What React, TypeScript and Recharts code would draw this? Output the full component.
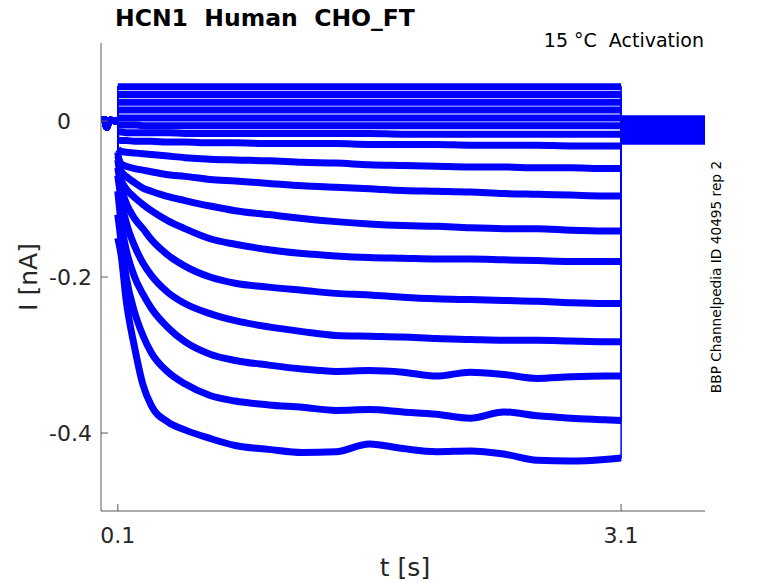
import React from 'react';
import { LineChart, Line, XAxis, YAxis } from 'recharts';

// sampling times (s)
const TIME_PRE = [0, 0.02, 0.035, 0.05, 0.1];
const TIME_STEP = [0.1, 0.12, 0.15, 0.2, 0.25, 0.3, 0.4, 0.5, 0.65, 0.8, 1.0, 1.2, 1.4, 1.6, 1.8, 2.0, 2.2, 2.4, 2.6, 2.8, 3.0, 3.1];
const TIME_TAIL = [3.1, 3.6];

// holding current before the step (nA)
const BASELINE = [0.0, 0.002, -0.008, 0.001, 0.0];

// current during the activation step, one array per sweep (nA)
const SWEEP_1 = [-0.15, -0.172, -0.23, -0.29, -0.338, -0.365, -0.386, -0.396, -0.407, -0.416, -0.421, -0.425, -0.424, -0.414, -0.42, -0.424, -0.423, -0.427, -0.435, -0.436, -0.434, -0.432];
const SWEEP_2 = [-0.12, -0.155, -0.2, -0.245, -0.275, -0.297, -0.322, -0.337, -0.352, -0.359, -0.364, -0.367, -0.371, -0.37, -0.373, -0.376, -0.381, -0.373, -0.378, -0.381, -0.383, -0.384];
const SWEEP_3 = [-0.09, -0.13, -0.165, -0.2, -0.222, -0.24, -0.265, -0.283, -0.299, -0.307, -0.313, -0.318, -0.321, -0.32, -0.322, -0.327, -0.322, -0.325, -0.33, -0.328, -0.327, -0.327];
const SWEEP_4 = [-0.07, -0.1, -0.13, -0.16, -0.182, -0.198, -0.22, -0.234, -0.247, -0.256, -0.264, -0.27, -0.275, -0.276, -0.277, -0.279, -0.28, -0.281, -0.281, -0.282, -0.283, -0.283];
const SWEEP_5 = [-0.06, -0.085, -0.105, -0.125, -0.138, -0.152, -0.172, -0.186, -0.2, -0.208, -0.213, -0.217, -0.221, -0.223, -0.226, -0.228, -0.229, -0.23, -0.231, -0.233, -0.234, -0.234];
const SWEEP_6 = [-0.05, -0.075, -0.087, -0.098, -0.107, -0.115, -0.128, -0.138, -0.151, -0.158, -0.165, -0.17, -0.173, -0.175, -0.176, -0.177, -0.177, -0.178, -0.179, -0.18, -0.18, -0.18];
const SWEEP_7 = [-0.04, -0.064, -0.071, -0.079, -0.086, -0.09, -0.097, -0.102, -0.109, -0.115, -0.12, -0.125, -0.129, -0.132, -0.134, -0.135, -0.137, -0.138, -0.138, -0.14, -0.141, -0.141];
const SWEEP_8 = [-0.045, -0.055, -0.058, -0.061, -0.063, -0.065, -0.069, -0.071, -0.075, -0.077, -0.08, -0.083, -0.085, -0.087, -0.089, -0.09, -0.091, -0.093, -0.094, -0.095, -0.096, -0.096];
const SWEEP_9 = [-0.036, -0.039, -0.04, -0.041, -0.042, -0.043, -0.045, -0.047, -0.049, -0.05, -0.051, -0.053, -0.054, -0.056, -0.057, -0.058, -0.059, -0.059, -0.06, -0.06, -0.061, -0.061];
const SWEEP_10 = [-0.024, -0.025, -0.025, -0.026, -0.026, -0.026, -0.027, -0.027, -0.028, -0.028, -0.029, -0.029, -0.029, -0.03, -0.03, -0.03, -0.031, -0.031, -0.031, -0.032, -0.032, -0.032];
const SWEEP_11 = [-0.014, -0.014, -0.015, -0.015, -0.015, -0.015, -0.015, -0.016, -0.016, -0.016, -0.016, -0.016, -0.016, -0.016, -0.017, -0.017, -0.017, -0.017, -0.017, -0.017, -0.017, -0.017];
const SWEEP_12 = [-0.005, -0.005, -0.005, -0.005, -0.006, -0.006, -0.006, -0.006, -0.006, -0.006, -0.006, -0.006, -0.006, -0.006, -0.006, -0.006, -0.006, -0.006, -0.006, -0.006, -0.006, -0.006];
const SWEEP_13 = [0.004, 0.004, 0.004, 0.004, 0.004, 0.004, 0.004, 0.004, 0.004, 0.004, 0.004, 0.004, 0.004, 0.004, 0.004, 0.004, 0.004, 0.004, 0.004, 0.004, 0.004, 0.004];
const SWEEP_14 = [0.014, 0.014, 0.014, 0.014, 0.014, 0.014, 0.014, 0.014, 0.014, 0.014, 0.014, 0.014, 0.014, 0.014, 0.014, 0.014, 0.014, 0.014, 0.014, 0.014, 0.014, 0.014];
const SWEEP_15 = [0.024, 0.024, 0.024, 0.024, 0.024, 0.024, 0.024, 0.024, 0.024, 0.024, 0.024, 0.024, 0.024, 0.024, 0.024, 0.024, 0.024, 0.024, 0.024, 0.024, 0.024, 0.024];
const SWEEP_16 = [0.034, 0.034, 0.034, 0.034, 0.034, 0.034, 0.034, 0.034, 0.034, 0.034, 0.034, 0.034, 0.034, 0.034, 0.034, 0.034, 0.034, 0.034, 0.034, 0.034, 0.034, 0.034];
const SWEEP_17 = [0.044, 0.044, 0.044, 0.044, 0.044, 0.044, 0.044, 0.044, 0.044, 0.044, 0.044, 0.044, 0.044, 0.044, 0.044, 0.044, 0.044, 0.044, 0.044, 0.044, 0.044, 0.044];

const SWEEPS = [SWEEP_1, SWEEP_2, SWEEP_3, SWEEP_4, SWEEP_5, SWEEP_6, SWEEP_7, SWEEP_8, SWEEP_9,
  SWEEP_10, SWEEP_11, SWEEP_12, SWEEP_13, SWEEP_14, SWEEP_15, SWEEP_16, SWEEP_17];

// tail current after return to holding, per sweep (nA)
const TAIL = [-0.024, -0.02, -0.016, -0.026, -0.012, -0.008, -0.022, -0.005, -0.002, 0.001, 0.003, -0.018, -0.01, -0.004, -0.014, -0.02, 0.0];

const X_TICKS = [0.1, 3.1];
const Y_TICKS = [-0.4, -0.2, 0];
const Y_TICK_LABELS = ['-0.4', '-0.2', '0\u00a0\u00a0\u00a0'];

const BLUE = '#0000ff';
const AXIS = '#5a5a5a';
const TEXT = '#262626';
const FONT = '"DejaVu Sans", sans-serif';

// thin trace: the whole sweep incl. the jumps
const fullRows = (sw: number[], tail: number) => [
  ...TIME_PRE.map((t, i) => ({ t, v: BASELINE[i] })),
  ...TIME_STEP.map((t, i) => ({ t, v: sw[i] })),
  ...TIME_TAIL.map((t) => ({ t, v: tail })),
];

// thick trace: segments only, broken at the jumps
const bandRows = (sw: number[], tail: number) => [
  ...TIME_PRE.map((t, i) => ({ t, v: BASELINE[i] })),
  { t: 0.1, v: null },
  ...TIME_STEP.map((t, i) => ({ t, v: sw[i] })),
  { t: 3.1, v: null },
  ...TIME_TAIL.map((t) => ({ t, v: tail })),
];

const YTick = ({ x, y, payload }: any) => {
  const idx = Y_TICKS.indexOf(payload.value);
  return (
    <g>
      <line x1={x} y1={y} x2={x + 7} y2={y} stroke={AXIS} strokeWidth={1} />
      <text x={x - 9} y={y} textAnchor="end" dominantBaseline="central" fill={TEXT} fontSize={22} fontFamily={FONT}>
        {Y_TICK_LABELS[idx]}
      </text>
    </g>
  );
};

const XTick = ({ x, y, payload }: any) => (
  <g>
    <line x1={x} y1={y} x2={x} y2={y - 7} stroke={AXIS} strokeWidth={1} />
    <text x={x} y={y + 24} textAnchor="middle" dominantBaseline="central" fill={TEXT} fontSize={22} fontFamily={FONT}>
      {payload.value}
    </text>
  </g>
);

export default function App() {
  return (
    <div style={{ position: 'absolute', left: 0, top: 0, width: 778, height: 583, background: '#fff' }}>
      <LineChart width={778} height={583} margin={{ top: 43, right: 73, left: 0, bottom: 0 }}>
        <XAxis
          type="number"
          dataKey="t"
          domain={[0, 3.6]}
          ticks={X_TICKS}
          allowDataOverflow
          height={72}
          tickSize={0}
          tickMargin={0}
          tickLine={false}
          tick={<XTick />}
          axisLine={{ stroke: AXIS }}
        />
        <YAxis
          type="number"
          domain={[-0.5, 0.1]}
          ticks={Y_TICKS}
          allowDataOverflow
          width={101}
          tickSize={0}
          tickMargin={0}
          tickLine={false}
          tick={<YTick />}
          axisLine={{ stroke: AXIS }}
        />
        {SWEEPS.map((sw, i) => (
          <Line
            key={`band-${i}`}
            data={bandRows(sw, TAIL[i])}
            dataKey="v"
            type="monotone"
            stroke={BLUE}
            strokeWidth={7}
            strokeLinejoin="round"
            dot={false}
            activeDot={false}
            isAnimationActive={false}
          />
        ))}
        {SWEEPS.map((sw, i) => (
          <Line
            key={`full-${i}`}
            data={fullRows(sw, TAIL[i])}
            dataKey="v"
            type="linear"
            stroke={BLUE}
            strokeWidth={1.5}
            dot={false}
            activeDot={false}
            isAnimationActive={false}
          />
        ))}
      </LineChart>
      <svg width={778} height={583} style={{ position: 'absolute', left: 0, top: 0, pointerEvents: 'none' }}>
        <text x={115} y={18} dominantBaseline="central" fontSize={23.5} fontWeight="bold" fontFamily={FONT} fill="#000" style={{ whiteSpace: 'pre' }}>
          HCN1  Human  CHO_FT
        </text>
        <text x={704} y={40} textAnchor="end" dominantBaseline="central" fontSize={19} fontFamily={FONT} fill="#000" style={{ whiteSpace: 'pre' }}>
          15 °C  Activation
        </text>
        <text x={405} y={567} textAnchor="middle" dominantBaseline="central" fontSize={25} fontFamily={FONT} fill={TEXT}>
          t [s]
        </text>
        <text x={28} y={277} textAnchor="middle" dominantBaseline="central" fontSize={25} fontFamily={FONT} fill={TEXT} transform="rotate(-90 28 277)">
          I [nA]
        </text>
        <text x={716} y={277} textAnchor="middle" dominantBaseline="central" fontSize={13.7} fontFamily={FONT} fill="#000" transform="rotate(-90 716 277)">
          BBP Channelpedia ID 40495 rep 2
        </text>
      </svg>
    </div>
  );
}
